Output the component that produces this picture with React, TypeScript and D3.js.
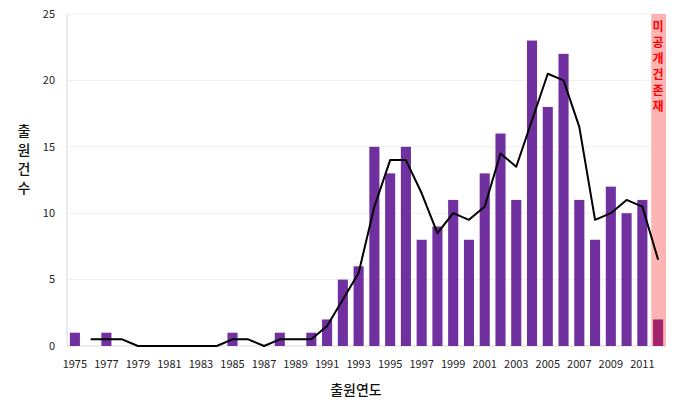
import React from "react";
import * as d3 from "d3";

// 출원연도
const years = [
  1975, 1976, 1977, 1978, 1979, 1980, 1981, 1982, 1983, 1984, 1985, 1986, 1987,
  1988, 1989, 1990, 1991, 1992, 1993, 1994, 1995, 1996, 1997, 1998, 1999, 2000,
  2001, 2002, 2003, 2004, 2005, 2006, 2007, 2008, 2009, 2010, 2011, 2012,
];

// 출원건수 (bars)
const counts = [
  1, 0, 1, 0, 0, 0, 0, 0, 0, 0, 1, 0, 0, 1, 0, 1, 2, 5, 6, 15, 13, 15, 8, 9, 11,
  8, 13, 16, 11, 23, 18, 22, 11, 8, 12, 10, 11, 2,
];

// trend line (starts at 1976)
const trend = [
  null, 0.5, 0.5, 0.5, 0, 0, 0, 0, 0, 0, 0.5, 0.5, 0, 0.5, 0.5, 0.5, 1.5, 3.5,
  5.5, 10.5, 14, 14, 11.5, 8.5, 10, 9.5, 10.5, 14.5, 13.5, 17, 20.5, 20, 16.5,
  9.5, 10, 11, 10.5, 6.5,
];

const yTicks = [0, 5, 10, 15, 20, 25];
const unpublishedYear = 2012;
const unpublishedLabel = "미공개건존재";

const width = 686;
const height = 414;
const margin = { top: 14, right: 20, bottom: 68, left: 67 };

const font = "'Noto Sans CJK KR', 'Noto Sans', sans-serif";

export default function App() {
  const plotRight = width - margin.right;
  const plotBottom = height - margin.bottom;

  const x = d3
    .scaleBand<number>()
    .domain(years)
    .range([margin.left, plotRight])
    .paddingInner(0.36)
    .paddingOuter(0.18);

  const y = d3.scaleLinear().domain([0, 25]).range([plotBottom, margin.top]);

  const cx = (yr: number) => (x(yr) ?? 0) + x.bandwidth() / 2;

  const line = d3
    .line<number | null>()
    .defined((d) => d !== null)
    .x((_, i) => cx(years[i]))
    .y((d) => y(d as number));

  const step = x.step();
  const bandLeft = cx(unpublishedYear) - step / 2 + 1;

  return (
    <svg
      width={width}
      height={height}
      style={{ position: "absolute", left: 0, top: 0, background: "#fff" }}
      fontFamily={font}
    >
      {/* grid */}
      {yTicks.map((t) => (
        <line
          key={t}
          x1={margin.left}
          x2={plotRight}
          y1={y(t)}
          y2={y(t)}
          stroke={t === 0 ? "#d9d9d9" : "#efefef"}
          strokeWidth={1}
        />
      ))}
      <line
        x1={margin.left}
        x2={margin.left}
        y1={margin.top}
        y2={plotBottom}
        stroke="#d9d9d9"
      />

      {/* unpublished band */}
      <rect
        x={bandLeft}
        y={margin.top}
        width={plotRight - bandLeft}
        height={plotBottom - margin.top}
        fill="#ffb4b4"
      />

      {/* bars */}
      {years.map((yr, i) =>
        counts[i] > 0 ? (
          <rect
            key={yr}
            x={x(yr)}
            y={y(counts[i])}
            width={x.bandwidth()}
            height={plotBottom - y(counts[i])}
            fill={yr === unpublishedYear ? "#a0236c" : "#7030a0"}
          />
        ) : null
      )}

      {/* trend */}
      <path
        d={line(trend) ?? ""}
        fill="none"
        stroke="#000"
        strokeWidth={2}
        strokeLinejoin="round"
      />

      {/* y ticks */}
      {yTicks.map((t) => (
        <text
          key={t}
          x={55}
          y={y(t)}
          dy="0.35em"
          textAnchor="end"
          fontSize={11}
          fill="#222"
        >
          {t}
        </text>
      ))}

      {/* x ticks */}
      {years
        .filter((yr) => (yr - 1975) % 2 === 0 && yr !== unpublishedYear)
        .map((yr) => (
          <text
            key={yr}
            x={cx(yr)}
            y={368}
            textAnchor="middle"
            fontSize={11}
            fill="#222"
          >
            {yr}
          </text>
        ))}

      {/* y title */}
      {"출원건수".split("").map((ch, i) => (
        <text
          key={i}
          x={24}
          y={131 + i * 19}
          dy="0.35em"
          textAnchor="middle"
          fontSize={14}
          fontWeight={500}
          fill="#111"
        >
          {ch}
        </text>
      ))}

      {/* x title */}
      <text
        x={356}
        y={390}
        dy="0.35em"
        textAnchor="middle"
        fontSize={14}
        fontWeight={500}
        fill="#111"
      >
        출원연도
      </text>

      {/* unpublished label */}
      {unpublishedLabel.split("").map((ch, i) => (
        <text
          key={i}
          x={cx(unpublishedYear)}
          y={27 + i * 16}
          dy="0.35em"
          textAnchor="middle"
          fontSize={12}
          fontWeight={700}
          fill="#ff0000"
        >
          {ch}
        </text>
      ))}
    </svg>
  );
}
